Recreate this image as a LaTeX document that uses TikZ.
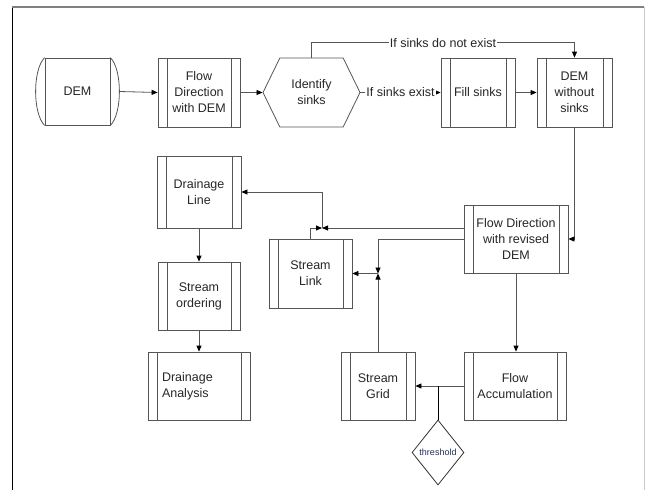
\documentclass[tikz,border=0pt]{standalone}
\usepackage{fontspec}
\setmainfont{Liberation Sans}
\usetikzlibrary{arrows.meta,shapes.geometric,shapes.symbols}
\definecolor{linegray}{HTML}{555555}
\definecolor{darkblue}{HTML}{1F2D5C}

\begin{document}
\begin{tikzpicture}[x=1pt,y=-1pt]
    \tikzstyle{every node}=[font=\fontsize{12.5}{16}\selectfont, text=black!85]
    \tikzstyle{proc}=[draw=linegray, line width=0.8pt, rectangle, align=center,
        minimum height=69pt, inner sep=2pt,
        path picture={
            \draw[linegray, line width=0.8pt] ([xshift=9pt]path picture bounding box.north west) -- ([xshift=9pt]path picture bounding box.south west);
            \draw[linegray, line width=0.8pt] ([xshift=-9pt]path picture bounding box.north east) -- ([xshift=-9pt]path picture bounding box.south east);
        }]
    \tikzstyle{arr}=[draw=linegray, line width=0.8pt, -{Triangle[length=6pt,width=5pt,color=black]}]
    \tikzstyle{lbl}=[fill=white, inner sep=1pt]

    \useasboundingbox (0,0) rectangle (645,490);

    % frame
    \draw[black, line width=1pt] (12,7) -- (12,490);
    \draw[gray, line width=1.2pt] (12,7) -- (644,7);
    \draw[gray!40, line width=1pt] (644,7) -- (644,490);

    % top row
    \node[draw=linegray, line width=0.8pt, minimum width=65pt, minimum height=67pt] (dem) at (77.5,91.5) {DEM};
    \draw[linegray, line width=0.8pt] (dem.north west) .. controls +(-12,12) and +(-12,-12) .. (dem.south west);
    \draw[linegray, line width=0.8pt] (dem.north east) .. controls +(12,12) and +(12,-12) .. (dem.south east);
    \node[proc, minimum width=82pt] (flowdir) at (199,92.5) {Flow\\Direction\\with DEM};
    \node[draw=linegray, line width=0.8pt, signal, signal to=west and east, signal pointer angle=128,
        minimum width=97pt, minimum height=69pt, align=center, inner sep=2pt] (ident) at (311.5,92.5) {Identify\\sinks};
    \node[proc, minimum width=74pt] (fill) at (478,92.5) {Fill sinks};
    \node[proc, minimum width=75pt] (nosinks) at (574.5,92.5) {DEM\\without\\sinks};

    % middle and bottom
    \node[proc, minimum width=104pt, minimum height=68pt] (fdrev) at (516,239) {Flow Direction\\with revised\\DEM};
    \node[proc, minimum width=84pt, minimum height=72pt] (drline) at (199,192) {Drainage\\Line};
    \node[proc, minimum width=83pt] (strlink) at (310.5,273.5) {Stream\\Link};
    \node[proc, minimum width=82pt, minimum height=68pt] (strorder) at (199,296) {Stream\\ordering};
    \node[proc, minimum width=102pt, minimum height=68pt, text width=74pt, align=left] (dranalysis) at (199,386) {Drainage\\Analysis\\[4pt]};
    \node[proc, minimum width=74pt, minimum height=68pt] (strgrid) at (378,386) {Stream\\Grid};
    \node[proc, minimum width=102pt, minimum height=68pt] (flowacc) at (515,386) {Flow\\Accumulation};
    \node[draw=black!80, line width=0.8pt, diamond, minimum width=52pt, minimum height=65pt, inner sep=0pt,
        font=\fontsize{9}{10}\selectfont, text=darkblue] (thresh) at (438,452.5) {threshold};

    \coordinate (j1) at (322,228);
    \coordinate (j2) at (378,273.5);

    % connectors
    \draw[arr] ([xshift=9pt]dem.east) -- (flowdir.west);
    \draw[arr] (flowdir.east) -- (ident.west);
    \draw[arr] (ident.east) -- node[lbl] {If sinks exist} (fill.west);
    \draw[arr] (fill.east) -- (nosinks.west);
    \draw[arr] (ident.north) -- ++(0,-15) -| node[lbl, pos=0.25] {If sinks do not exist} (nosinks.north);
    \draw[arr] (nosinks.south) |- (fdrev.east);
    \draw[arr] (fdrev.south) -- (fdrev.south |- flowacc.north);
    \draw[arr] (flowacc.west) -- (strgrid.east);
    \draw[line width=0.8pt] (thresh.north) -- (thresh.north |- flowacc.west);
    \draw[arr] (fdrev.west |- j1) -- (j1);
    \draw[arr] (strlink.north) |- (j1);
    \draw[arr] (j1) |- (drline.east);
    \draw[arr] (fdrev.west) -| (j2);
    \draw[arr] (strgrid.north) -- (j2);
    \draw[arr] (j2) -- (strlink.east);
    \draw[arr] (drline.south) -- (strorder.north);
    \draw[arr] (strorder.south) -- (dranalysis.north);

\end{tikzpicture}
\end{document}
